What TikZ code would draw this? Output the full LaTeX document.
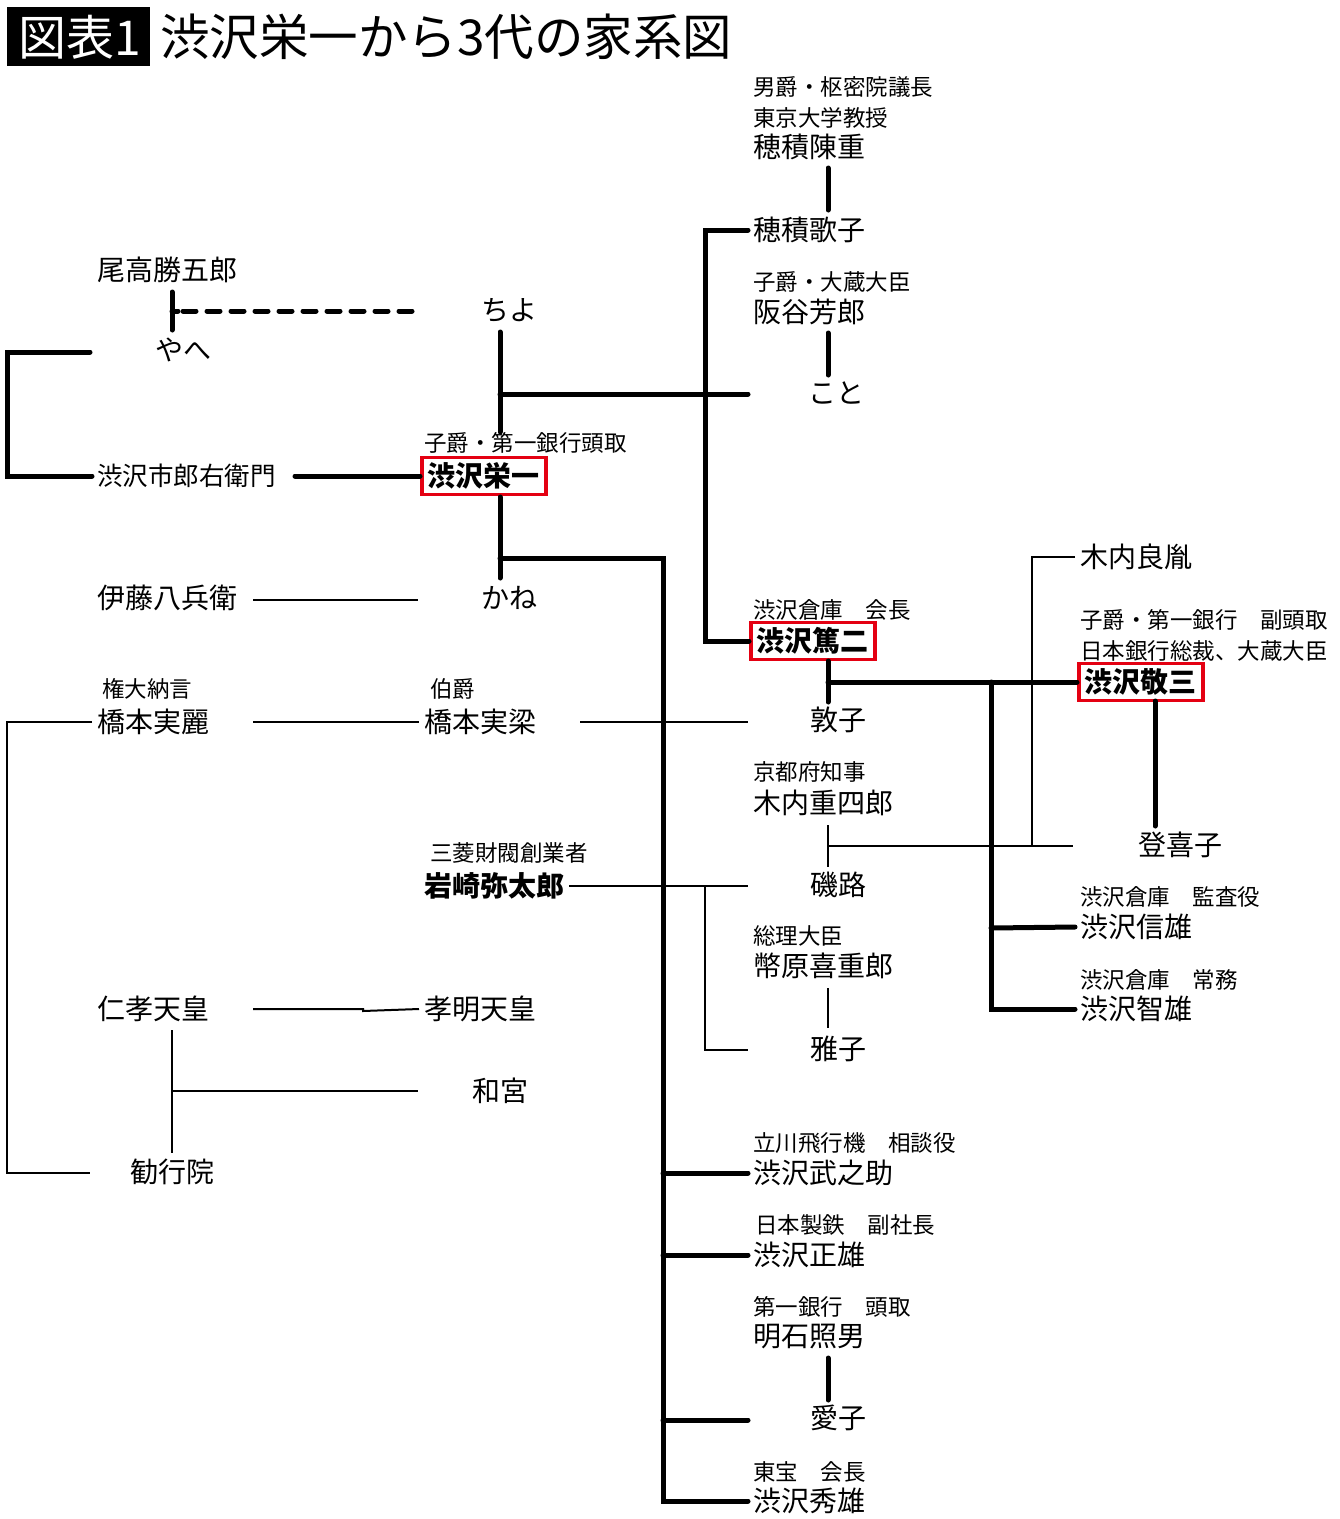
\documentclass[tikz,border=0pt]{standalone}
\usepackage{fontspec}
\setmainfont{Noto Sans CJK JP}
\definecolor{boxred}{RGB}{228,0,18}
\begin{document}
\begin{tikzpicture}[x=1pt,y=-1pt,
  nm/.style={anchor=west,inner xsep=5pt,inner ysep=1pt,font=\fontsize{28}{30}\selectfont},
  nmb/.style={nm,font=\fontsize{28}{30}\selectfont\bfseries},
  lb/.style={anchor=west,inner xsep=5pt,inner ysep=1pt,font=\fontsize{22.5}{24}\selectfont},
  bx/.style={anchor=west,draw=boxred,line width=3.5pt,inner xsep=6pt,inner ysep=5pt,font=\fontsize{28}{30}\selectfont\bfseries},
  thk/.style={line width=5pt,line cap=round},
  thn/.style={line width=2pt},
  dsh/.style={line width=5pt,line cap=round,dash pattern=on 13pt off 11pt}]
\useasboundingbox (0,0) rectangle (1340,1519);
% title
\fill[black] (7,7) rectangle (150,66);
\node[anchor=west,inner sep=0,text=white,font=\fontsize{48}{50}\selectfont] (zuhyo) at (18,37) {図表1};
\node[anchor=west,inner sep=0,font=\fontsize{49.5}{52}\selectfont] (title) at (160,37) {渋沢栄一から3代の家系図};
% nodes
\node[lb] (hozT1) at (748,87) {男爵・枢密院議長};
\node[lb] (hozT2) at (748,118) {東京大学教授};
\node[nm] (hozumi) at (748,147) {穂積陳重};
\node[nm] (utako) at (748,230) {穂積歌子};
\node[lb] (sakT) at (748,282) {子爵・大蔵大臣};
\node[nm] (sakatani) at (748,312) {阪谷芳郎};
\node[nm] (koto) at (803,393) {こと};
\node[nm] (odaka) at (92,270) {尾高勝五郎};
\node[nm] (yahe) at (150,350) {やへ};
\node[nm] (chiyo) at (476,310) {ちよ};
\node[nm,font=\fontsize{25.5}{28}\selectfont] (ichiro) at (92,476) {渋沢市郎右衛門};
\node[lb] (eiT) at (419,443) {子爵・第一銀行頭取};
\node[bx] (eiichi) at (420,476) {渋沢栄一};
\node[nm] (ito) at (92,598) {伊藤八兵衛};
\node[nm] (kane) at (476,598) {かね};
\node[lb] (tokT) at (748,610) {渋沢倉庫　会長};
\node[bx] (tokuji) at (749,641) {渋沢篤二};
\node[nm] (atsuko) at (805,720) {敦子};
\node[nm] (yoshitane) at (1075,557) {木内良胤};
\node[lb] (keiT1) at (1075,620) {子爵・第一銀行　副頭取};
\node[lb] (keiT2) at (1075,651) {日本銀行総裁、大蔵大臣};
\node[bx] (keizo) at (1077,682) {渋沢敬三};
\node[nm] (tokiko) at (1133,845) {登喜子};
\node[lb] (nobT) at (1075,897) {渋沢倉庫　監査役};
\node[nm] (nobuo) at (1075,927) {渋沢信雄};
\node[lb] (tomT) at (1075,980) {渋沢倉庫　常務};
\node[nm] (tomoo) at (1075,1009) {渋沢智雄};
\node[lb] (saneT) at (97,689) {権大納言};
\node[nm] (saneakira) at (92,722) {橋本実麗};
\node[lb] (sanenaT) at (425,689) {伯爵};
\node[nm] (sanenaru) at (419,722) {橋本実梁};
\node[lb] (kiuchiT) at (748,772) {京都府知事};
\node[nm] (kiuchi) at (748,803) {木内重四郎};
\node[nm] (isoji) at (805,885) {磯路};
\node[lb] (iwaT) at (425,853) {三菱財閥創業者};
\node[nmb] (iwasaki) at (419,886) {岩崎弥太郎};
\node[lb] (shideT) at (748,936) {総理大臣};
\node[nm] (shidehara) at (748,966) {幣原喜重郎};
\node[nm] (masako) at (805,1049) {雅子};
\node[nm] (ninko) at (92,1009) {仁孝天皇};
\node[nm] (komei) at (419,1009) {孝明天皇};
\node[nm] (kazunomiya) at (467,1091) {和宮};
\node[nm] (kangyoin) at (125,1172) {勧行院};
\node[lb] (takeT) at (748,1143) {立川飛行機　相談役};
\node[nm] (takenosuke) at (748,1173) {渋沢武之助};
\node[lb] (masT) at (750,1225) {日本製鉄　副社長};
\node[nm] (masao) at (748,1255) {渋沢正雄};
\node[lb] (akaT) at (748,1307) {第一銀行　頭取};
\node[nm] (akashi) at (748,1337) {明石照男};
\node[nm] (aiko) at (805,1418) {愛子};
\node[lb] (hideT) at (748,1472) {東宝　会長};
\node[nm] (hideo) at (748,1501) {渋沢秀雄};
% free ends
\coordinate (kotoL) at (748,394);
\coordinate (aikoL) at (748,1420);
\coordinate (atsukoL) at (748,722);
\coordinate (isojiL) at (748,886);
\coordinate (masakoL) at (748,1050);
\coordinate (tokikoL) at (1073,846);
% thick connectors
\draw[thk] (828,168) -- (828,210);
\draw[thk] (utako.west) -- (705,230) -- (705,641) -- (tokuji.west);
\draw[thk] (828,333) -- (828,375);
\draw[thk] (500,332) -- (500,432);
\draw[thk] (500,394) -- (kotoL);
\draw[thk] (172,292) -- (172,330);
\draw[dsh] (183,311) -- (420,311);
\draw[thk] (172,311) -- (178,311);
\draw[thk] (90,352) -- (7,352) -- (7,476) -- (ichiro.west);
\draw[thk] (295,476) -- (eiichi.west);
\draw[thk] (500,497) -- (500,578);
\draw[thk] (500,558) -- (663,558) -- (663,1501) -- (hideo.west);
\draw[thk] (663,1173) -- (takenosuke.west);
\draw[thk] (663,1255) -- (masao.west);
\draw[thk] (663,1420) -- (aikoL);
\draw[thk] (828,1358) -- (828,1400);
\draw[thk] (828,661) -- (828,702);
\draw[thk] (828,682) -- (keizo.west);
\draw[thk] (991,682) -- (991,1009) -- (tomoo.west);
\draw[thk] (991,928) -- (nobuo.west);
\draw[thk] (1155,701) -- (1155,826);
% thin connectors
\draw[thn] (yoshitane.west) -- (1032,557) -- (1032,846);
\draw[thn] (828,825) -- (828,867);
\draw[thn] (828,846) -- (tokikoL);
\draw[thn] (253,600) -- (418,600);
\draw[thn] (saneakira.west) -- (7,722) -- (7,1173) -- (90,1173);
\draw[thn] (253,722) -- (sanenaru.west);
\draw[thn] (580,722) -- (atsukoL);
\draw[thn] (iwasaki.east) -- (isojiL);
\draw[thn] (705,886) -- (705,1050) -- (masakoL);
\draw[thn] (828,988) -- (828,1028);
\draw[thn] (253,1009) -- (363,1009) -- (363,1011) -- (komei.west);
\draw[thn] (172,1030) -- (172,1153);
\draw[thn] (172,1091) -- (418,1091);
\end{tikzpicture}
\end{document}
